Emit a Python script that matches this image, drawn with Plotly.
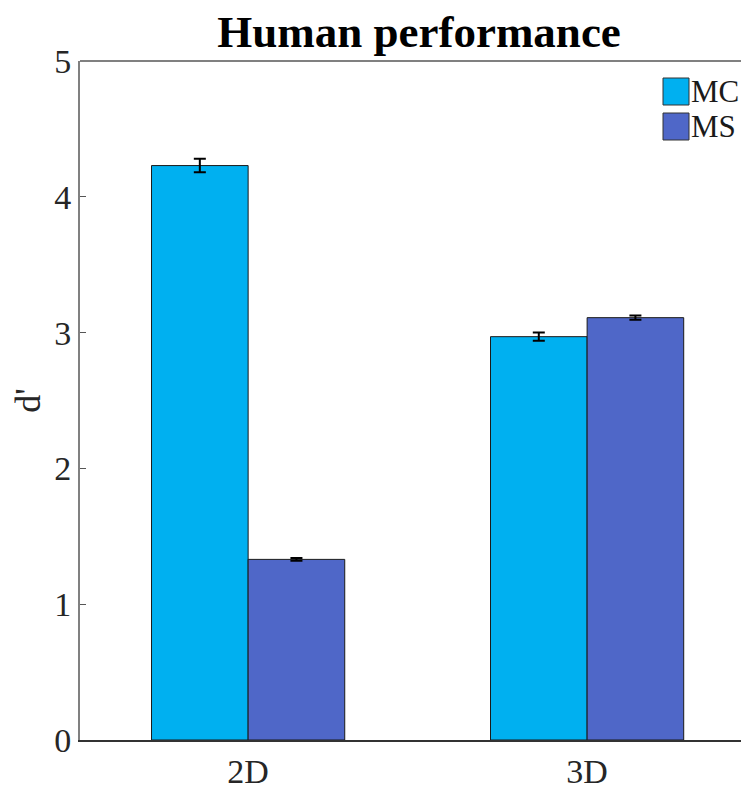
import plotly.graph_objects as go

categories = ["2D", "3D"]
cat_pos = [1, 2]
series_names = ["MC", "MS"]
mc_values = [4.23, 2.97]
mc_errors = [0.05, 0.03]
ms_values = [1.33, 3.11]
ms_errors = [0.01, 0.015]
colors = ["#00B0F0", "#4F67C8"]
y_ticks = [0, 1, 2, 3, 4, 5]

FONT = "Liberation Serif, Times New Roman, serif"

fig = go.Figure()
for name, vals, errs, col in zip(series_names, [mc_values, ms_values], [mc_errors, ms_errors], colors):
    fig.add_trace(go.Bar(
        x=cat_pos, y=vals, name=name,
        marker=dict(color=col, line=dict(color="#1a1a1a", width=1)),
        error_y=dict(type="data", array=errs, color="black", thickness=2, width=6),
        showlegend=False,
    ))

# page body has an 8px margin; figure occupies 8..741 x 8..789
OFF = 8
W, H = 733, 781
ml, mr, mt, mb = 72, 0, 53, 49
pw, ph = W - ml - mr, H - mt - mb

def px2paper(x, y):
    # x, y in screenshot pixels
    return (x - OFF - ml) / pw, (H - mb - (y - OFF)) / ph

shapes = []
annotations = []
for i, (name, col) in enumerate(zip(series_names, colors)):
    y0 = 78 + i * 35
    x0p, y0p = px2paper(663, y0)
    x1p, y1p = px2paper(689, y0 + 27)
    shapes.append(dict(type="rect", xref="paper", yref="paper", x0=x0p, x1=x1p, y0=y1p, y1=y0p,
                       fillcolor=col, line=dict(color="#333333", width=1)))
    tx, ty = px2paper(689, y0 + 14)
    annotations.append(dict(xref="paper", yref="paper", x=tx, y=ty, text=name, showarrow=False,
                            xanchor="left", yanchor="middle",
                            font=dict(family=FONT, size=31, color="#1a1a1a")))

fig.update_layout(
    width=W, height=H,
    margin=dict(l=ml, r=mr, t=mt, b=mb, autoexpand=False),
    paper_bgcolor="white", plot_bgcolor="white",
    barmode="group", bargap=0.43, bargroupgap=0,
    title=dict(text="<b>Human performance</b>", x=411 / W, xanchor="center", y=1 - 23 / H, yanchor="middle",
               font=dict(family=FONT, size=45, color="black")),
    xaxis=dict(range=[0.504, 2.454], tickvals=cat_pos, ticktext=categories, automargin=False,
               showline=True, linecolor="#333333", linewidth=1.5, mirror=False,
               ticks="", showgrid=False, zeroline=False,
               tickfont=dict(family=FONT, size=34, color="#262626")),
    yaxis=dict(range=[0, 5], tickvals=y_ticks, showline=True, linecolor="#808080", linewidth=2,
               automargin=False,
               ticks="inside", ticklen=6, tickcolor="#555555", showgrid=False, zeroline=False,
               tickfont=dict(family=FONT, size=34, color="#262626"),
               title=dict(text="d'", font=dict(family=FONT, size=36, color="#262626"), standoff=14)),
    shapes=shapes + [dict(type="line", xref="paper", yref="paper", x0=0, x1=1, y0=1, y1=1,
                          line=dict(color="#808080", width=2))],
    annotations=annotations,
)

fig.write_html("out.html")
